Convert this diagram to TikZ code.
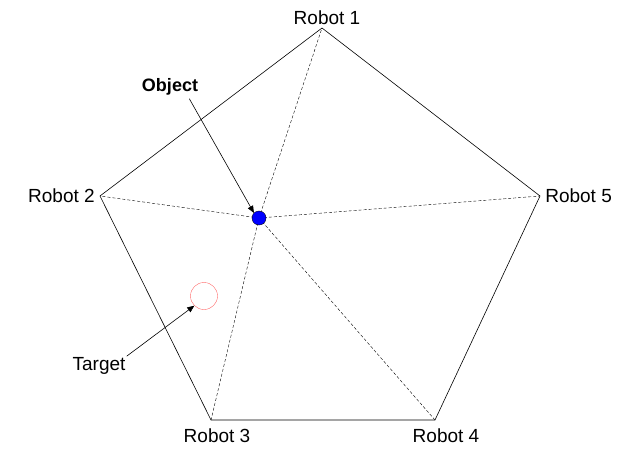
\documentclass[tikz,border=0pt]{standalone}
\usepackage{fontspec}
\setmainfont{Liberation Sans}
\usetikzlibrary{positioning}
\usetikzlibrary{arrows}

\begin{document}
\begin{tikzpicture}[
            x = 1pt, y = -1pt,
            > = triangle 45, % arrow head style
            semithick, % line style
            lbl/.style = {font=\fontsize{19}{22}\selectfont, inner sep=1pt},
            link/.style = {densely dashed, thin}
            ]
        \useasboundingbox (0,0) rectangle (640,460);

	% robots
	\coordinate (R1) at (322,28);
	\coordinate (R2) at (100,196);
	\coordinate (R3) at (211,420);
	\coordinate (R4) at (435,420);
	\coordinate (R5) at (540,196);
	\node[lbl] (L1) [above = 2pt of R1, xshift=5pt] {Robot 1};
	\node[lbl] (L2) [left = 4pt of R2] {Robot 2};
	\node[lbl] (L3) [below = 7pt of R3, xshift=6pt] {Robot 3};
	\node[lbl] (L4) [below = 7pt of R4, xshift=11pt] {Robot 4};
	\node[lbl] (L5) [right = 4pt of R5] {Robot 5};

	\draw (R1) -- (R2) -- (R3) -- (R4) -- (R5) -- cycle;

	% object and target
	\node[circle, fill=blue, draw=black, thin, minimum size=14pt, inner sep=0pt] (O) at (259,218) {};
	\node[circle, draw=red!60, thin, minimum size=27pt, inner sep=0pt] (T) at (204,296) {};
	\foreach \r in {R1,R2,R3,R4,R5}
	    \draw[link] (O.center) -- (\r);
	\fill[blue] (O) circle (6.5pt);

	% labels
	\node[lbl, font=\fontsize{18}{22}\selectfont\bfseries] (OL) at (170,87) {Object};
	\path[->] (OL.south east) ++(-10,2) coordinate (OA);
	\draw[->] (OA) -- (O.north west);
	\node[lbl] (TL) at (99,366) {Target};
	\draw[->] (TL.north east) -- (T.south west);
\end{tikzpicture}
\end{document}
